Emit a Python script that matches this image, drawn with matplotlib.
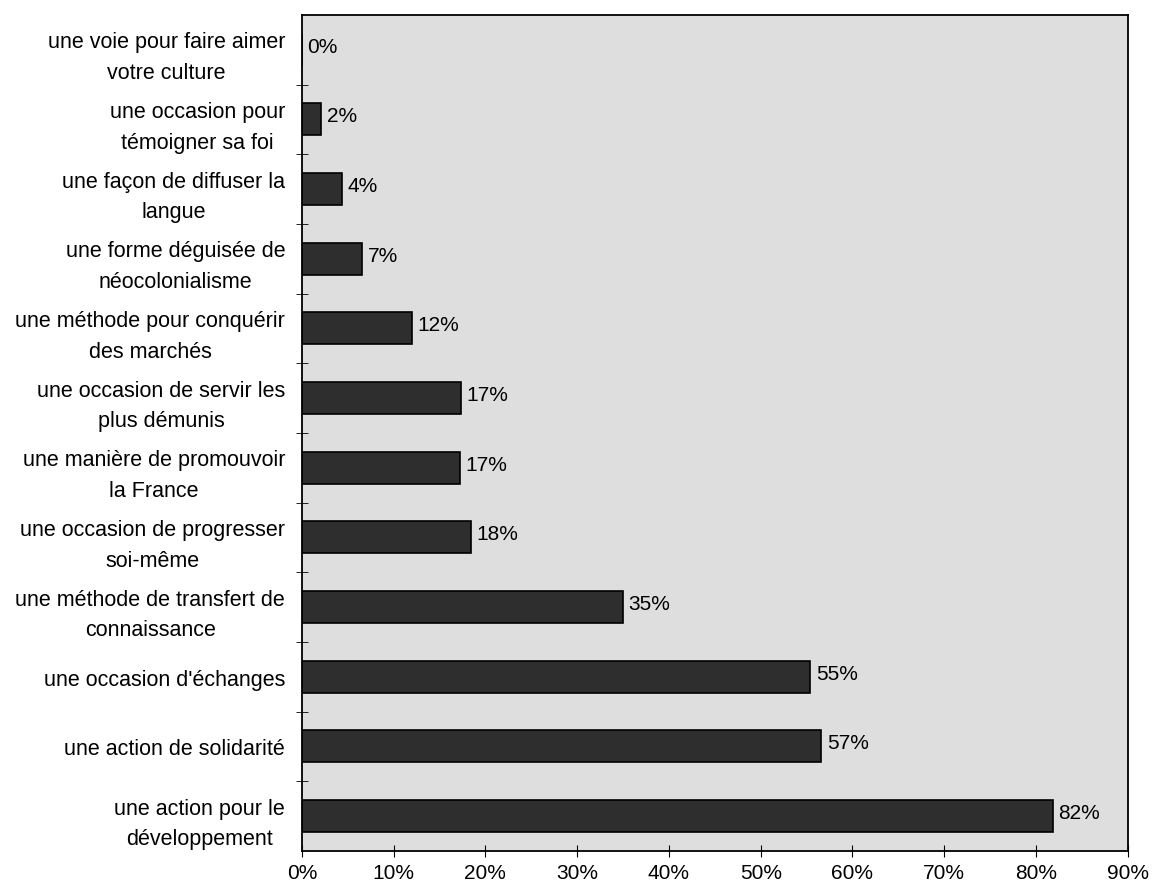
import matplotlib.pyplot as plt
from matplotlib.ticker import FuncFormatter, MultipleLocator

categories = [
    "une voie pour faire aimer\nvotre culture",
    "une occasion pour\ntémoigner sa foi",
    "une façon de diffuser la\nlangue",
    "une forme déguisée de\nnéocolonialisme",
    "une méthode pour conquérir\ndes marchés",
    "une occasion de servir les\nplus démunis",
    "une manière de promouvoir\nla France",
    "une occasion de progresser\nsoi-même",
    "une méthode de transfert de\nconnaissance",
    "une occasion d'échanges",
    "une action de solidarité",
    "une action pour le\ndéveloppement",
]
values = [0.0, 2.1, 4.4, 6.6, 12.0, 17.3, 17.2, 18.4, 35.0, 55.4, 56.6, 81.8]
value_labels = ["0%", "2%", "4%", "7%", "12%", "17%", "17%", "18%", "35%", "55%", "57%", "82%"]

plt.rcParams['font.family'] = ['Liberation Sans', 'DejaVu Sans']

fig = plt.figure(figsize=(11.52, 8.87), dpi=100)
ax = fig.add_axes([0.262, 0.0395, 0.717, 0.9425])
ax.set_facecolor('#dedede')

ypos = list(range(len(categories)))
ax.barh(ypos, values, height=0.46, color='#2e2e2e', edgecolor='black', linewidth=1.2)

for y, v, lab in zip(ypos, values, value_labels):
    ax.text(v + 0.6, y - 0.05, lab, va='center', ha='left', fontsize=15)

ax.set_xlim(0, 90)
ax.set_ylim(len(categories) - 0.5, -0.5)
ax.xaxis.set_major_locator(MultipleLocator(10))
ax.xaxis.set_major_formatter(FuncFormatter(lambda x, p: f"{int(round(x))}%"))

ax.set_yticks(ypos)
ax.set_yticklabels(categories, fontsize=15.5, ha='right', multialignment='center',
                   linespacing=1.6)
ax.tick_params(axis='y', length=0, pad=12)
ax.set_yticks([i + 0.5 for i in range(len(categories) - 1)], minor=True)
ax.tick_params(axis='y', which='minor', direction='inout', length=8)
ax.tick_params(axis='x', direction='inout', length=8, labelsize=15, pad=5)

for s in ax.spines.values():
    s.set_color('black')
    s.set_linewidth(1.3)

fig.savefig('out.png', dpi=100)
